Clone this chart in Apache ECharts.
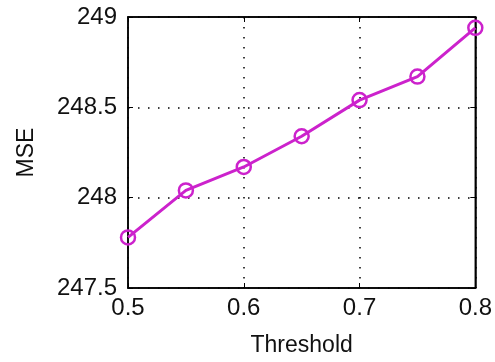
<!DOCTYPE html>
<html><head><meta charset="utf-8">
<script src="https://cdn.jsdelivr.net/npm/echarts@6/dist/echarts.min.js"></script>
<style>html,body{margin:0;padding:0;background:#fff}#c{width:495px;height:362px}</style>
</head><body><div id="c"></div>
<script>
const thresholds = [0.5, 0.55, 0.6, 0.65, 0.7, 0.75, 0.8];
const mse = [247.78, 248.04, 248.17, 248.34, 248.54, 248.67, 248.94];
const xTicks = [0.5, 0.6, 0.7, 0.8];
const yTicks = [247.5, 248, 248.5, 249];
const font = 'Liberation Sans';
const chart = echarts.init(document.getElementById('c'), null, {renderer: 'canvas'});
const fmt = list => v => { const t = list.find(x => Math.abs(x - v) < 1e-6); return t === undefined ? '' : String(t); };
const lineCommon = {show: true, onZero: false, lineStyle: {color: '#000', width: 1.5}};
const tickCommon = {show: true, inside: true, length: 5, lineStyle: {color: '#000'}};
const gridDots = {show: true, lineStyle: {color: '#000', type: [1.5, 8.5], width: 1.5}};
chart.setOption({
  animation: false,
  grid: {left: 128, right: 16, top: 17, bottom: 69, show: true, borderColor: '#000', borderWidth: 1.5, containLabel: false},
  xAxis: [{
    type: 'value', min: 0.5, max: 0.8, interval: 0.1, position: 'bottom',
    name: 'Threshold', nameLocation: 'middle', nameGap: 46,
    nameTextStyle: {fontFamily: font, fontSize: 23, color: '#111'},
    axisLine: lineCommon, axisTick: tickCommon, splitLine: gridDots,
    axisLabel: {fontFamily: font, fontSize: 24, color: '#111', margin: 8, formatter: fmt(xTicks)}
  }, {
    type: 'value', min: 0.5, max: 0.8, interval: 0.1, position: 'top',
    axisLine: lineCommon, axisTick: tickCommon, splitLine: {show: false}, axisLabel: {show: false}
  }],
  yAxis: [{
    type: 'value', min: 247.5, max: 249, interval: 0.5, position: 'left',
    name: 'MSE', nameLocation: 'middle', nameGap: 90,
    nameTextStyle: {fontFamily: font, fontSize: 23, color: '#111'},
    axisLine: lineCommon, axisTick: tickCommon, splitLine: gridDots,
    axisLabel: {fontFamily: font, fontSize: 24, color: '#111', margin: 11, formatter: fmt(yTicks)}
  }, {
    type: 'value', min: 247.5, max: 249, interval: 0.5, position: 'right',
    axisLine: lineCommon, axisTick: tickCommon, splitLine: {show: false}, axisLabel: {show: false}
  }],
  series: [{
    type: 'line', data: thresholds.map((t, i) => [t, mse[i]]),
    xAxisIndex: 0, yAxisIndex: 0,
    symbol: 'circle', symbolSize: 14, clip: false,
    lineStyle: {color: '#cc22cc', width: 3},
    itemStyle: {color: 'rgba(0,0,0,0)', borderColor: '#cc22cc', borderWidth: 2.5}
  }]
});
</script></body></html>
